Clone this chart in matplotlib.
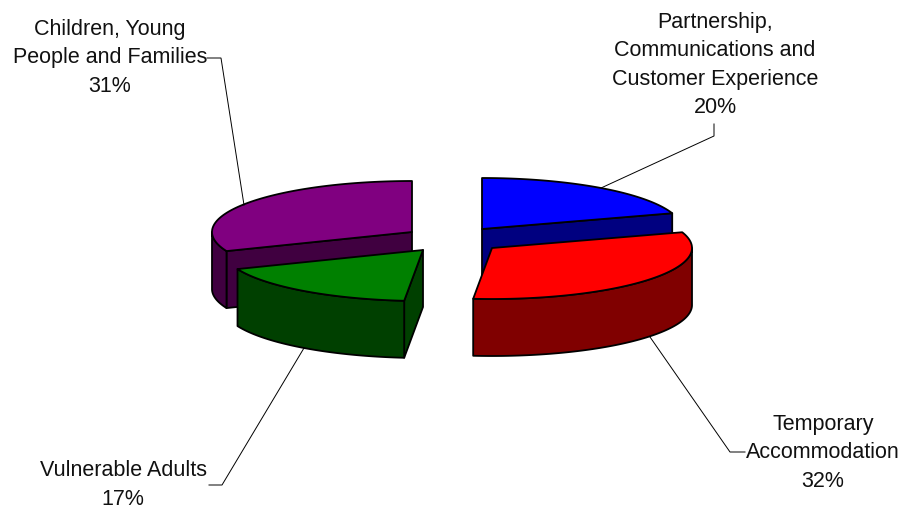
import matplotlib
matplotlib.use('Agg')
import matplotlib.pyplot as plt
import numpy as np
from matplotlib.patches import Polygon

# data
names = ['Partnership,\nCommunications and\nCustomer Experience', 'Temporary\nAccommodation',
         'Vulnerable Adults', 'Children, Young\nPeople and Families']
shares = [20.0, 31.5, 17.4, 31.1]
top_colors = ['#0000FF', '#FF0000', '#008000', '#800080']
wall_colors = ['#000080', '#800000', '#004000', '#400040']

# layout, in pixels of the 907x512 picture
apexes = [(482, 229), (492, 248), (423, 250), (412, 232)]
label_pos = [(715, 65), (823, 453), (123, 485), (110, 58)]
leaders = [[(714, 124), (714, 136), (601, 188)],
           [(745, 452), (730, 452), (650, 337)],
           [(209, 485), (222, 485), (304, 348)],
           [(207, 58), (221, 58), (244, 205)]]
RX, RY, DEPTH = 200, 51, 57
EDGE = 1.3

plt.rcParams['font.family'] = ['Liberation Sans', 'DejaVu Sans']

fig = plt.figure(figsize=(9.07, 5.12), dpi=100)
ax = fig.add_axes([0, 0, 1, 1])
ax.set_xlim(0, 907)
ax.set_ylim(512, 0)
ax.axis('off')


def arc(apex, start, end, drop=0):
    t = np.radians(np.linspace(start, end, max(int(end - start) * 2, 2)))
    return np.column_stack([apex[0] + RX * np.sin(t), apex[1] - RY * np.cos(t) + drop])


def draw_slice(i, start, end):
    apex = apexes[i]
    wall = wall_colors[i]

    def face(points):
        ax.add_patch(Polygon(points, closed=True, facecolor=wall, edgecolor='black',
                             linewidth=EDGE, joinstyle='round'))

    # cut faces whose outward normal turns towards the viewer
    for ang, normal in ((start, start - 90), (end, end + 90)):
        if np.cos(np.radians(normal)) < -1e-6:
            p = arc(apex, ang, ang + 0.001)[0]
            face([apex, p, (p[0], p[1] + DEPTH), (apex[0], apex[1] + DEPTH)])

    # outer wall, only the front half of the rim can be seen
    lo, hi = max(start, 90), min(end, 270)
    if lo < hi:
        top = arc(apex, lo, hi)
        face(np.vstack([top, arc(apex, lo, hi, DEPTH)[::-1]]))

    ax.add_patch(Polygon(np.vstack([[apex], arc(apex, start, end)]), closed=True,
                         facecolor=top_colors[i], edgecolor='black', linewidth=EDGE,
                         joinstyle='round'))


ends = np.cumsum(shares) * 3.6
starts = np.concatenate([[0], ends[:-1]])

for i in [0, 1, 3, 2]:
    draw_slice(i, starts[i], ends[i])

for path in leaders:
    xs, ys = zip(*path)
    ax.plot(xs, ys, color='black', lw=0.7, solid_joinstyle='miter')

for name, share, pos in zip(names, shares, label_pos):
    ax.text(pos[0], pos[1], f'{name}\n{share:.0f}%', ha='center', va='center',
            fontsize=15.5, color='#111111', linespacing=1.46)

fig.savefig('out.png', dpi=100)
